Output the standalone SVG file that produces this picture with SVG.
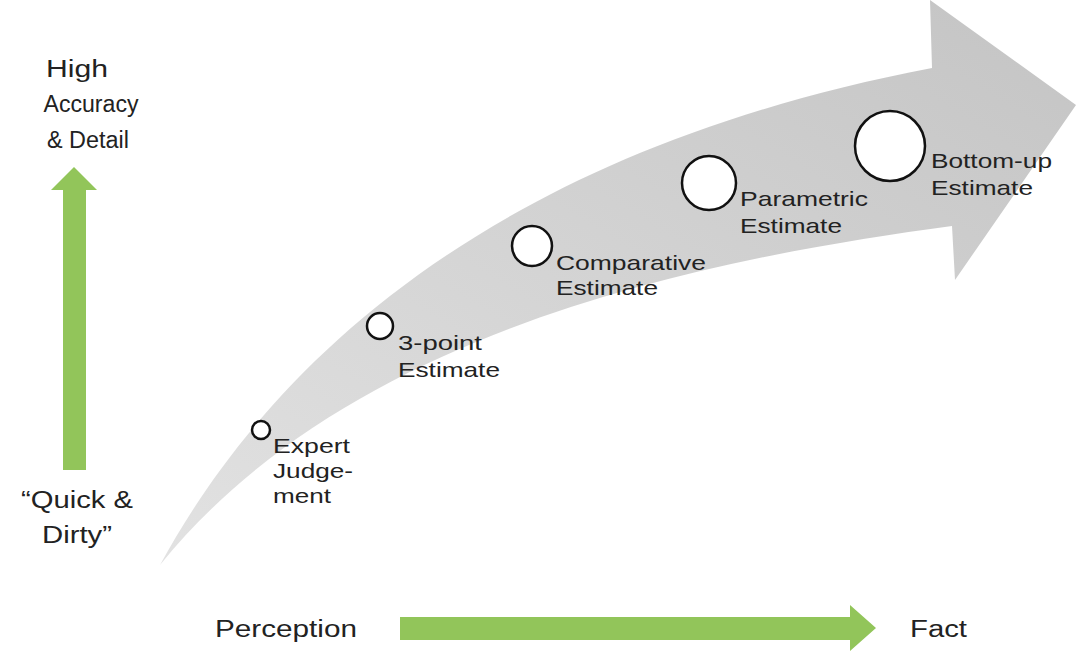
<svg xmlns="http://www.w3.org/2000/svg" width="1092" height="660" viewBox="0 0 1092 660">
<style>
text{font-family:"Liberation Sans",Arial,sans-serif;font-size:23px;fill:#222}
.lbl{font-size:21px}
.c{fill:#fff;stroke:#111;stroke-width:2.5}
.g{fill:#92c55a}
</style>
<defs>
<linearGradient id="gr" x1="0" y1="1" x2="1" y2="0">
<stop offset="0" stop-color="#e2e2e2"/><stop offset="1" stop-color="#c4c4c4"/>
</linearGradient>
</defs>
<rect width="1092" height="660" fill="#fff"/>
<g id="bigarrow">
<path d="M160,565 C250,400 450,160 932,68 L930,0 L1076,105 L955,280 L952,226 C700,260 350,330 160,565 Z" fill="url(#gr)"/>
</g>
<g id="vaxis">
<path class="g" d="M63,470 L63,190 L51,190 L74,167 L97,190 L86,190 L86,470 Z"/>
<text x="77" y="77" text-anchor="middle" textLength="62" lengthAdjust="spacingAndGlyphs">High</text>
<text x="91" y="112" text-anchor="middle" textLength="95" lengthAdjust="spacingAndGlyphs">Accuracy</text>
<text x="88" y="148" text-anchor="middle" textLength="82" lengthAdjust="spacingAndGlyphs">&amp; Detail</text>
<text x="77" y="508" text-anchor="middle" textLength="112" lengthAdjust="spacingAndGlyphs">“Quick &amp;</text>
<text x="77" y="543" text-anchor="middle" textLength="70" lengthAdjust="spacingAndGlyphs">Dirty”</text>
</g>
<g id="haxis">
<path class="g" d="M400,617 L850,617 L850,605 L876,628 L850,651 L850,640 L400,640 Z"/>
<text x="215" y="637" textLength="142" lengthAdjust="spacingAndGlyphs">Perception</text>
<text x="910" y="637" textLength="57" lengthAdjust="spacingAndGlyphs">Fact</text>
</g>
<g id="n1"><circle class="c" cx="261" cy="430" r="9"/><text class="lbl" x="273" y="453" textLength="77" lengthAdjust="spacingAndGlyphs">Expert</text><text class="lbl" x="273" y="478" textLength="80" lengthAdjust="spacingAndGlyphs">Judge-</text><text class="lbl" x="273" y="503" textLength="58" lengthAdjust="spacingAndGlyphs">ment</text></g>
<g id="n2"><circle class="c" cx="380" cy="326" r="13"/><text class="lbl" x="398" y="350" textLength="84" lengthAdjust="spacingAndGlyphs">3-point</text><text class="lbl" x="398" y="377" textLength="102" lengthAdjust="spacingAndGlyphs">Estimate</text></g>
<g id="n3"><circle class="c" cx="532" cy="246" r="20"/><text class="lbl" x="556" y="270" textLength="150" lengthAdjust="spacingAndGlyphs">Comparative</text><text class="lbl" x="556" y="295" textLength="102" lengthAdjust="spacingAndGlyphs">Estimate</text></g>
<g id="n4"><circle class="c" cx="709" cy="183" r="27"/><text class="lbl" x="740" y="206" textLength="128" lengthAdjust="spacingAndGlyphs">Parametric</text><text class="lbl" x="740" y="233" textLength="102" lengthAdjust="spacingAndGlyphs">Estimate</text></g>
<g id="n5"><circle class="c" cx="890" cy="146" r="35"/><text class="lbl" x="931" y="168" textLength="121" lengthAdjust="spacingAndGlyphs">Bottom-up</text><text class="lbl" x="931" y="195" textLength="102" lengthAdjust="spacingAndGlyphs">Estimate</text></g>
<g id="connectors"/>
</svg>
